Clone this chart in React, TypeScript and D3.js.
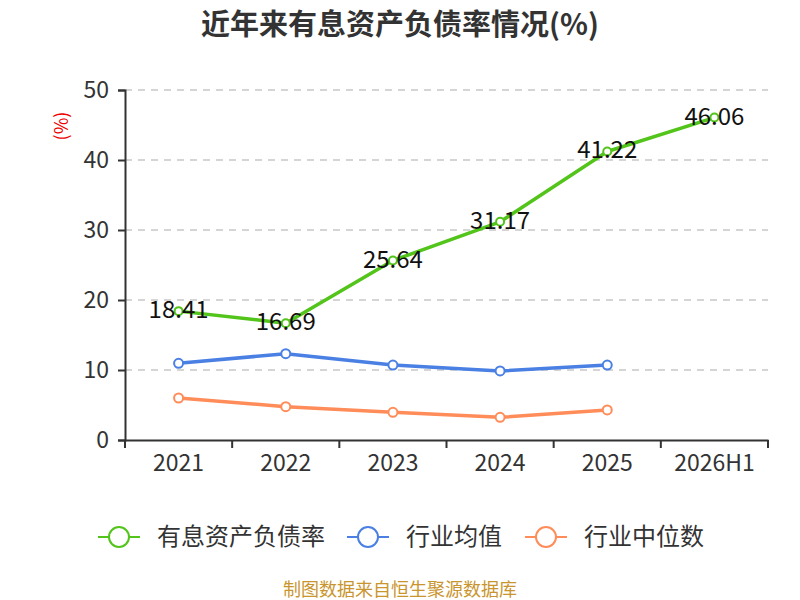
import { useEffect, useRef } from "react";
import * as d3 from "d3";

const years = ["2021", "2022", "2023", "2024", "2025", "2026H1"];
const debtRatio = [18.41, 16.69, 25.64, 31.17, 41.22, 46.06];
const industryAvg = [10.95, 12.33, 10.7, 9.86, 10.7];
const industryMedian = [6.0, 4.76, 3.95, 3.24, 4.29];
const yTicks = [0, 10, 20, 30, 40, 50];

const series = [
  { name: "有息资产负债率", values: debtRatio, color: "#52c41a", r: 4, labels: true },
  { name: "行业均值", values: industryAvg, color: "#4a80e3", r: 4.5, labels: false },
  { name: "行业中位数", values: industryMedian, color: "#ff8c59", r: 4.5, labels: false },
];

const FONT = "'Noto Sans CJK SC', 'Noto Sans', sans-serif";

export default function App() {
  const svgRef = useRef<SVGSVGElement>(null);

  useEffect(() => {
    if (!svgRef.current) return;
    const svg = d3.select(svgRef.current);
    svg.selectAll("*").remove();

    const margin = { left: 125, right: 32, top: 90, bottom: 160 };
    const width = 800;
    const height = 600;

    const x = d3.scaleBand().domain(years).range([margin.left, width - margin.right]);
    const y = d3.scaleLinear().domain([0, 50]).range([height - margin.bottom, margin.top]);

    // title
    svg.append("text")
      .attr("x", 400).attr("y", 35)
      .attr("text-anchor", "middle")
      .style("font-family", FONT).style("font-size", "29px").style("font-weight", "bold")
      .attr("fill", "#333")
      .text("近年来有息资产负债率情况(%)");

    // grid lines
    svg.append("g").selectAll("line")
      .data(yTicks.filter((t) => t > 0))
      .enter().append("line")
      .attr("x1", margin.left).attr("x2", width - margin.right)
      .attr("y1", (d) => y(d)).attr("y2", (d) => y(d))
      .attr("stroke", "#c8c8c8").attr("stroke-width", 1.5)
      .attr("stroke-dasharray", "7,6");

    // y axis
    const yAxis = svg.append("g")
      .attr("transform", `translate(${margin.left},0)`)
      .call(d3.axisLeft(y).tickValues(yTicks).tickSize(7).tickPadding(9));
    yAxis.select(".domain").attr("stroke", "#333").attr("stroke-width", 2);
    yAxis.selectAll(".tick line").attr("stroke", "#333").attr("stroke-width", 2);
    yAxis.selectAll(".tick text")
      .style("font-family", FONT).style("font-size", "23px").attr("fill", "#333");

    // x axis
    const xAxis = svg.append("g")
      .attr("transform", `translate(0,${y(0)})`)
      .call(d3.axisBottom(x).tickSize(0).tickPadding(15));
    xAxis.select(".domain").attr("stroke", "#333").attr("stroke-width", 2);
    xAxis.selectAll(".tick text")
      .style("font-family", FONT).style("font-size", "23px").attr("fill", "#333");
    const boundaries = years.map((yr) => x(yr) as number).concat([width - margin.right]);
    xAxis.selectAll(".bound").data(boundaries).enter().append("line")
      .attr("x1", (d) => d).attr("x2", (d) => d)
      .attr("y1", 0).attr("y2", 8)
      .attr("stroke", "#333").attr("stroke-width", 2);

    // y label
    svg.append("text")
      .attr("transform", `translate(68,126) rotate(-90)`)
      .attr("text-anchor", "middle")
      .style("font-family", FONT).style("font-size", "18px")
      .attr("fill", "#e00")
      .text("(%)");

    const cx = (i: number) => (x(years[i]) as number) + x.bandwidth() / 2;

    series.slice().reverse().forEach((s) => {
      const line = d3.line<number>().x((_, i) => cx(i)).y((d) => y(d));
      svg.append("path")
        .datum(s.values)
        .attr("d", line)
        .attr("fill", "none")
        .attr("stroke", s.color)
        .attr("stroke-width", 3.5)
        .attr("stroke-linejoin", "round");
      svg.append("g").selectAll("circle")
        .data(s.values).enter().append("circle")
        .attr("cx", (_, i) => cx(i)).attr("cy", (d) => y(d))
        .attr("r", s.r)
        .attr("fill", "#fff").attr("stroke", s.color).attr("stroke-width", 2);
      if (s.labels) {
        svg.append("g").selectAll("text")
          .data(s.values).enter().append("text")
          .attr("x", (_, i) => cx(i)).attr("y", (d) => y(d) + 7)
          .attr("text-anchor", "middle")
          .style("font-family", FONT).style("font-size", "24px")
          .attr("fill", "#111")
          .text((d) => d.toFixed(2));
      }
    });

    // legend
    const legendX = [98, 347, 525];
    const legend = svg.append("g").selectAll("g")
      .data(series).enter().append("g")
      .attr("transform", (_, i) => `translate(${legendX[i]},537)`);
    legend.append("line")
      .attr("x1", 0).attr("x2", 42).attr("y1", 0).attr("y2", 0)
      .attr("stroke", (d) => d.color).attr("stroke-width", 2);
    legend.append("circle")
      .attr("cx", 21).attr("cy", 0).attr("r", 10)
      .attr("fill", "#fff").attr("stroke", (d) => d.color).attr("stroke-width", 2);
    legend.append("text")
      .attr("x", 59).attr("y", 8)
      .style("font-family", FONT).style("font-size", "24px")
      .attr("fill", "#333")
      .text((d) => d.name);

    // source
    svg.append("text")
      .attr("x", 400).attr("y", 596)
      .attr("text-anchor", "middle")
      .style("font-family", FONT).style("font-size", "18px")
      .attr("fill", "#c9952e")
      .text("制图数据来自恒生聚源数据库");
  }, []);

  return (
    <svg
      ref={svgRef}
      width={800}
      height={600}
      style={{ position: "absolute", left: 0, top: 0, background: "#fff" }}
    />
  );
}
